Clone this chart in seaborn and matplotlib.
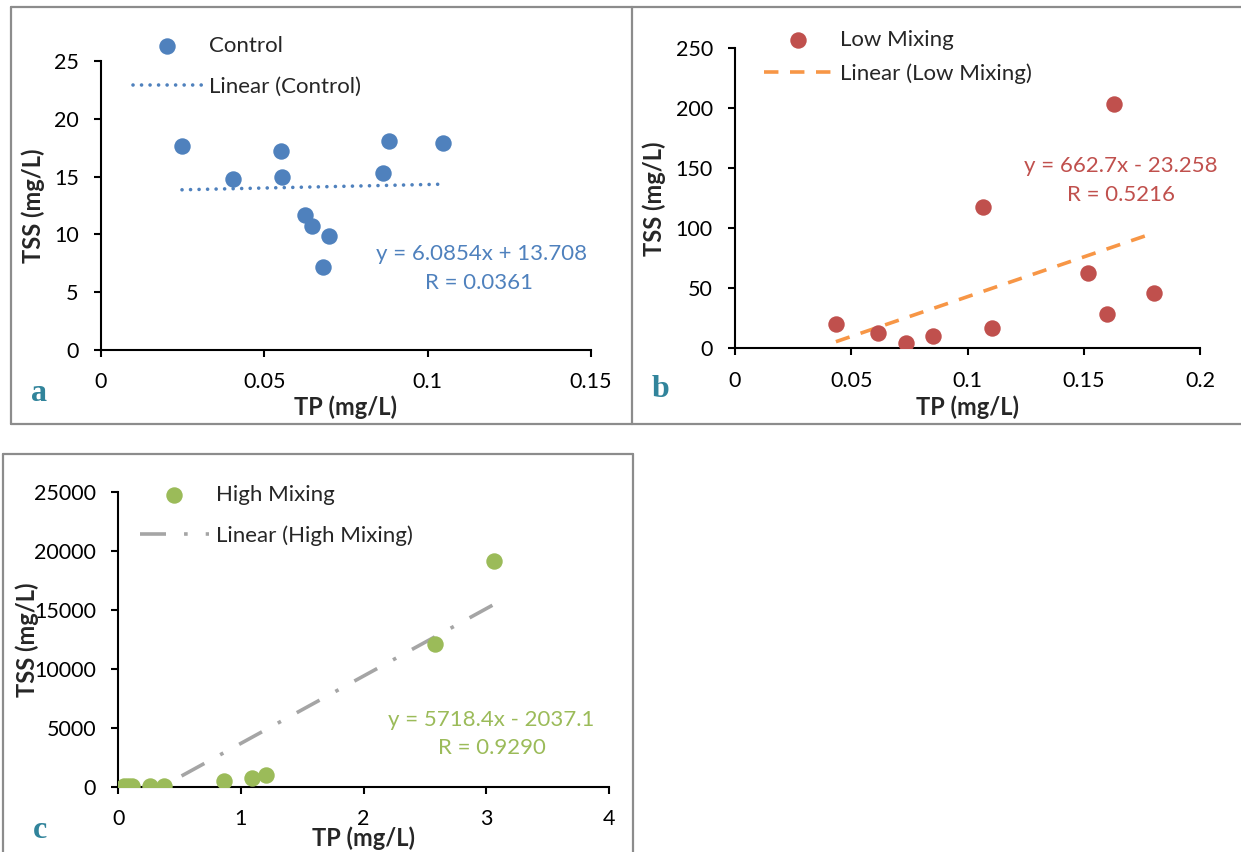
import matplotlib
matplotlib.use("Agg")
import matplotlib.pyplot as plt
from matplotlib.lines import Line2D
import numpy as np
import seaborn as sns

# ---- data -------------------------------------------------------------
control_tp = [0.0248, 0.0404, 0.0552, 0.0554, 0.0626, 0.0646, 0.0698, 0.0681, 0.0862, 0.0883, 0.1047]
control_tss = [17.69, 14.83, 17.20, 14.98, 11.65, 10.70, 9.83, 7.14, 15.33, 18.04, 17.89]

low_tp = [0.0434, 0.0617, 0.0735, 0.0850, 0.1067, 0.1107, 0.1517, 0.1599, 0.1630, 0.1802]
low_tss = [20.3, 12.5, 4.7, 10.5, 117.5, 17.2, 63.0, 28.3, 203.3, 45.8]

high_tp = [0.046, 0.080, 0.110, 0.256, 0.375, 0.859, 1.090, 1.200, 2.580, 3.065]
high_tss = [20, 30, 40, 85, 85, 484, 740, 1020, 12115, 19160]

# fitted trend lines (slope, intercept) and correlation
control_fit = (6.0854, 13.708)
low_fit = (662.7, -23.258)
high_fit = (5718.4, -2037.1)
control_r = "0.0361"
low_r = "0.5216"
high_r = "0.9290"

a_xticks = [0, 0.05, 0.1, 0.15]
a_yticks = [0, 5, 10, 15, 20, 25]
b_xticks = [0, 0.05, 0.1, 0.15, 0.2]
b_yticks = [0, 50, 100, 150, 200, 250]
c_xticks = [0, 1, 2, 3, 4]
c_yticks = [0, 5000, 10000, 15000, 20000, 25000]

# ---- style ------------------------------------------------------------
sns.set_style("white")
plt.rcParams["font.family"] = ["Lato", "DejaVu Sans"]
plt.rcParams["axes.linewidth"] = 1.5

W, H = 1241, 852
fig = plt.figure(figsize=(W / 100, H / 100), dpi=100)
fig.patch.set_facecolor("white")


def px_rect(left, top, right, bottom):
    return [left / W, 1 - bottom / H, (right - left) / W, (bottom - top) / H]


TICK_FS = 15.5
LEG_FS = 16
EQ_FS = 16
LAB_FS = 17

BLUE = "#4F81BD"
RED = "#C0504D"
ORANGE = "#F79646"
GREEN = "#9BBB59"
GREY = "#A5A5A5"
TEAL = "#31849B"


def panel(rect, tp, tss, fit, r_text, color, name, line_color, line_style, line_w,
          xticks, yticks, eq_text, eq_pos, r_pos, leg_anchor, leg_spacing,
          ylab_x, xlab_y, letter, letter_pos):
    ax = fig.add_axes(px_rect(*rect))
    sns.scatterplot(x=tp, y=tss, ax=ax, color=color, s=140, linewidth=0,
                    label=name, zorder=3)
    tx = np.array([min(tp), max(tp)])
    ty = fit[0] * tx + fit[1]
    sns.lineplot(x=tx, y=ty, ax=ax, color=line_color, linewidth=line_w,
                 linestyle=line_style, dash_capstyle="round" if name == "Control" else "butt",
                 label=f"Linear ({name})", zorder=2)
    ax.set_xlim(xticks[0], xticks[-1])
    ax.set_ylim(yticks[0], yticks[-1])
    ax.set_xticks(xticks)
    ax.set_yticks(yticks)
    ax.set_xticklabels([f"{v:g}" for v in xticks])
    ax.set_yticklabels([f"{v:g}" for v in yticks])
    ax.tick_params(axis="both", direction="out", length=5, width=1.5,
                   labelsize=TICK_FS, pad=11, colors="black",
                   bottom=True, left=True)
    sns.despine(ax=ax)
    for s in ("left", "bottom"):
        ax.spines[s].set_color("black")
        ax.spines[s].set_linewidth(1.5)
    ax.set_xlabel("TP (mg/L)", fontsize=LAB_FS, fontweight="bold")
    ax.set_ylabel("TSS (mg/L)", fontsize=LAB_FS, fontweight="bold")
    ax.xaxis.set_label_coords(0.5, xlab_y)
    ax.yaxis.set_label_coords(ylab_x, 0.5)
    ax.text(*eq_pos, eq_text, transform=ax.transAxes, ha="center",
            va="center", color=color, fontsize=EQ_FS)
    ax.text(*r_pos, "R = " + r_text, transform=ax.transAxes, ha="center",
            va="center", color=color, fontsize=EQ_FS)
    ax.legend(loc="upper left", bbox_to_anchor=(leg_anchor[0] / W, 1 - leg_anchor[1] / H),
              bbox_transform=fig.transFigure, frameon=False, fontsize=LEG_FS,
              handlelength=3.1, handletextpad=0.32, labelspacing=leg_spacing,
              borderpad=0, borderaxespad=0, scatterpoints=1)
    fig.text(letter_pos[0] / W, 1 - letter_pos[1] / H, letter, color=TEAL,
             fontsize=23, fontweight="bold", family="Liberation Serif",
             ha="left", va="baseline")
    return ax


panel((101, 61, 591, 350), control_tp, control_tss, control_fit, control_r, BLUE,
      "Control", BLUE, (0, (0.01, 2.35)), 2.6, a_xticks, a_yticks,
      "y = 6.0854x + 13.708", (0.776, 0.332), (0.771, 0.232),
      (133, 36), 0.95, -0.114, -0.156, "a", (31, 401))

panel((735, 48.3, 1200, 348.3), low_tp, low_tss, low_fit, low_r, RED,
      "Low Mixing", ORANGE, (0, (4.0, 3.2)), 2.6, b_xticks, b_yticks,
      "y = 662.7x - 23.258", (0.830, 0.608), (0.830, 0.511),
      (764, 30), 0.6, -0.149, -0.156, "b", (652, 397))

panel((118.3, 492.2, 609, 786.7), high_tp, high_tss, high_fit, high_r, GREEN,
      "High Mixing", GREY, (0, (7.2, 5, 1, 5)), 2.6, c_xticks, c_yticks,
      "y = 5718.4x - 2037.1", (0.760, 0.2265), (0.761, 0.131),
      (140, 485), 0.9, -0.162, -0.136, "c", (33, 838))

# panel frames
FRAME = "#8C8C8C"
segments = [
    ((11, 7), (632, 7)), ((11, 7), (11, 424)), ((11, 424), (632, 424)),
    ((632, 7), (1241, 7)), ((632, 7), (632, 424)), ((632, 424), (1241, 424)),
    ((3, 454), (633, 454)), ((3, 454), (3, 852)), ((633, 454), (633, 852)),
]
for (x0, y0), (x1, y1) in segments:
    fig.add_artist(Line2D([x0 / W, x1 / W], [1 - y0 / H, 1 - y1 / H],
                          transform=fig.transFigure, color=FRAME, linewidth=1.6))

fig.savefig("out.png", dpi=100, facecolor="white")
